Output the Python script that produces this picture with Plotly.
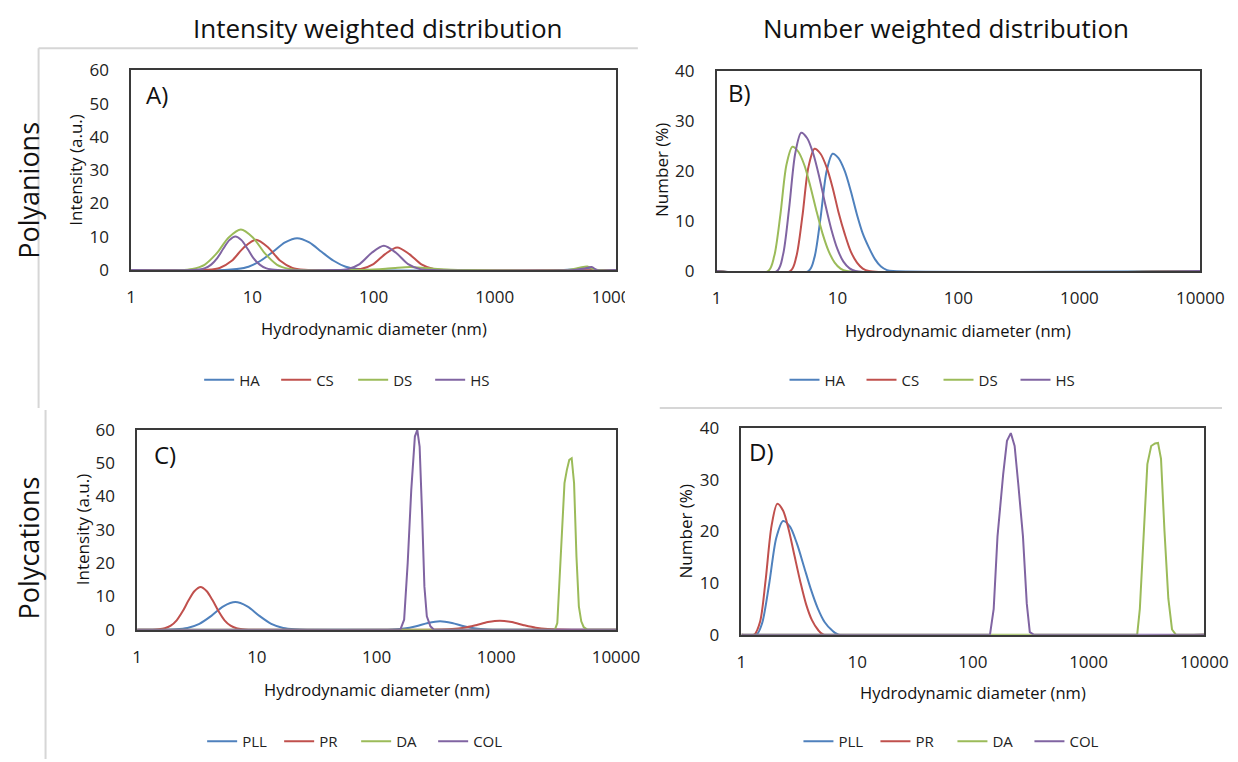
import plotly.graph_objects as go

# ---------------- data (diameter in nm, value) ----------------
# Panel A: intensity weighted, polyanions
A_HA_x = [1, 5.9, 7.4, 9.3, 11.7, 14.8, 18.6, 23.4, 29.5, 37.2, 46.8, 58.9, 74.1, 93.3, 3500, 5000, 6000, 7000, 10000]
A_HA_y = [0, 0, 0.3, 1.0, 2.8, 5.5, 8.3, 9.6, 8.3, 5.5, 2.8, 1.0, 0.3, 0, 0, 0.3, 0.5, 0, 0]
A_CS_x = [1, 3.39, 4.27, 5.37, 6.76, 8.51, 10.7, 13.5, 17.0, 21.4, 26.9, 33.9, 62.4, 78.5, 98.9, 124.5, 156.7, 197.2, 248.3, 312.6, 393.6, 10000]
A_CS_y = [0, 0, 0.08, 0.64, 2.8, 6.8, 9.1, 6.8, 2.8, 0.64, 0.08, 0, 0, 0.3, 1.7, 4.8, 6.8, 4.8, 1.7, 0.3, 0, 0]
A_DS_x = [1, 2.54, 3.2, 4.03, 5.07, 6.38, 8.04, 10.1, 12.7, 16.0, 20.2, 25.4, 63, 79, 100, 126, 158, 200, 251, 316, 398, 501, 631, 4000, 5000, 5800, 6500, 7200, 10000]
A_DS_y = [0, 0, 0.35, 1.6, 5.0, 9.8, 12.2, 9.8, 5.0, 1.6, 0.35, 0, 0, 0.05, 0.15, 0.37, 0.7, 0.9, 0.7, 0.37, 0.15, 0.05, 0, 0, 0.7, 1.1, 0.3, 0, 0]
A_HS_x = [1, 3.24, 3.63, 4.07, 4.57, 5.13, 5.75, 6.46, 7.24, 8.13, 9.12, 10.2, 11.5, 12.9, 14.5, 16.2, 48.4, 61.0, 76.7, 96.6, 121.6, 153.1, 192.8, 242.7, 305.5, 4500, 5500, 6300, 7000, 10000]
A_HS_y = [0, 0, 0.17, 0.6, 1.65, 3.6, 6.4, 9.0, 10.1, 9.0, 6.4, 3.6, 1.65, 0.6, 0.17, 0, 0, 0.3, 1.8, 5.2, 7.3, 5.2, 1.8, 0.3, 0, 0, 0.5, 0.9, 0, 0]

# Panel B: number weighted, polyanions
B_HA_x = [1, 5.75, 6.46, 7.24, 8.13, 9.12, 10.2, 11.5, 12.9, 14.5, 16.2, 18.2, 20.4, 22.9, 25.7, 28.8, 10000]
B_HA_y = [0, 0, 2.8, 10.6, 20.0, 23.5, 22.6, 20.0, 16.0, 11.3, 7.5, 4.7, 2.4, 0.9, 0.2, 0, 0]
B_CS_x = [1, 4.07, 4.57, 5.13, 5.75, 6.46, 7.24, 8.13, 9.12, 10.2, 11.5, 12.9, 14.5, 16.2, 18.2, 10000]
B_CS_y = [0, 0, 2.9, 11.0, 20.8, 24.5, 23.5, 20.8, 16.7, 11.8, 7.4, 3.9, 1.7, 0.5, 0, 0]
B_DS_x = [1, 2.67, 3.0, 3.37, 3.78, 4.24, 4.75, 5.33, 5.98, 6.71, 7.53, 8.45, 9.48, 10.6, 11.9, 10000]
B_DS_y = [0, 0, 3.0, 11.2, 21.2, 24.9, 23.9, 21.2, 16.9, 12.0, 7.5, 4.0, 1.7, 0.5, 0, 0]
B_HS_x = [1, 3.16, 3.55, 3.98, 4.47, 5.01, 5.62, 6.31, 7.08, 7.94, 8.91, 10.0, 11.2, 12.6, 14.1, 10000]
B_HS_y = [0, 0, 3.3, 12.5, 23.5, 27.7, 26.6, 23.5, 18.8, 13.3, 8.3, 4.4, 1.9, 0.55, 0, 0]

# Panel C: intensity weighted, polycations
C_PLL_x = [1, 1.66, 2.09, 2.63, 3.31, 4.17, 5.25, 6.61, 8.32, 10.5, 13.2, 16.6, 20.9, 26.3, 107, 135, 170, 214, 269, 339, 427, 537, 676, 851, 1072, 10000]
C_PLL_y = [0, 0, 0.11, 0.52, 1.75, 4.15, 7.0, 8.3, 7.0, 4.15, 1.75, 0.52, 0.11, 0, 0, 0.07, 0.34, 1.03, 2.0, 2.5, 2.0, 1.03, 0.34, 0.07, 0, 0]
C_PR_x = [1, 1.35, 1.51, 1.70, 1.91, 2.14, 2.40, 2.69, 3.02, 3.39, 3.80, 4.27, 4.79, 5.37, 6.03, 6.76, 7.59, 8.51, 269, 339, 427, 537, 676, 851, 1072, 1349, 1698, 2138, 2692, 3388, 4266, 10000]
C_PR_y = [0, 0, 0.12, 0.43, 1.2, 2.8, 5.5, 8.8, 11.6, 12.8, 11.6, 8.8, 5.5, 2.8, 1.2, 0.43, 0.12, 0, 0, 0.04, 0.17, 0.57, 1.35, 2.27, 2.7, 2.27, 1.35, 0.57, 0.17, 0.04, 0, 0]
C_DA_x = [1, 3090, 3236, 3388, 3548, 3715, 3890, 4074, 4266, 4467, 4677, 4898, 5129, 5370, 5754, 10000]
C_DA_y = [0, 0, 2, 16, 34, 44, 48, 51, 51.5, 44, 22, 7, 2.5, 0.8, 0, 0]
C_COL_x = [1, 158, 170, 182, 195, 209, 219, 229, 240, 251, 263, 282, 302, 10000]
C_COL_y = [0, 0, 3, 20, 42, 58, 60, 55, 35, 13, 4, 1, 0, 0]

# Panel D: number weighted, polycations
D_PLL_x = [1, 1.35, 1.51, 1.74, 2.00, 2.29, 2.63, 3.02, 3.47, 3.98, 4.57, 5.25, 6.03, 6.92, 10000]
D_PLL_y = [0, 0, 2.2, 9.9, 18.7, 22.0, 20.9, 17.6, 13.2, 8.8, 5.1, 2.4, 0.9, 0, 0]
D_PR_x = [1, 1.29, 1.45, 1.62, 1.82, 2.04, 2.29, 2.57, 2.88, 3.24, 3.63, 4.07, 4.57, 5.13, 10000]
D_PR_y = [0, 0, 2.5, 10.6, 21.0, 25.3, 24.0, 20.2, 15.2, 10.1, 5.8, 2.8, 1.0, 0, 0]
D_DA_x = [1, 2630, 2773, 2985, 3221, 3475, 3750, 3981, 4227, 4529, 4887, 5260, 5675, 10000]
D_DA_y = [0, 0, 5, 20, 33, 36.5, 37, 37.1, 34, 20, 7, 1, 0, 0]
D_COL_x = [1, 140.6, 151.4, 163.3, 182.8, 197.2, 212.8, 229.6, 247.2, 271.0, 292.4, 310.5, 335.0, 10000]
D_COL_y = [0, 0, 5, 19, 31, 37.5, 39, 36.5, 29, 19, 6, 0.5, 0, 0]

X_TICKS = [1, 10, 100, 1000, 10000]
X_TICK_TEXT = ["1", "10", "100", "1000", "10000"]
Y_TICKS_INT = [0, 10, 20, 30, 40, 50, 60]
Y_TICKS_NUM = [0, 10, 20, 30, 40]

BLUE, RED, GREEN, PURPLE = "#4F81BD", "#C0504D", "#9BBB59", "#8064A2"
FONT = "Open Sans"
W, H = 1238, 762


# layout calibration: target screen position -> figure pixel
def sx(v):
    return (v - 12.3) / 0.981


def sy(v):
    return (v - 19.6) / 0.971


def px(x):
    return min(max(sx(x) / W, 0), 1)


def py(y):
    return min(max(1 - sy(y) / H, 0), 1)


# (name, x, y, colour, line shape) - narrow spikes are drawn straight between points
panels = [
    dict(ax="", legend="legend", ymax=60, yticks=Y_TICKS_INT,
         box=(131, 618, 70, 270),
         series=[("HA", A_HA_x, A_HA_y, BLUE, "spline"), ("CS", A_CS_x, A_CS_y, RED, "spline"),
                 ("DS", A_DS_x, A_DS_y, GREEN, "spline"), ("HS", A_HS_x, A_HS_y, PURPLE, "spline")]),
    dict(ax="2", legend="legend2", ymax=40, yticks=Y_TICKS_NUM,
         box=(719, 1205, 71, 271),
         series=[("HA", B_HA_x, B_HA_y, BLUE, "spline"), ("CS", B_CS_x, B_CS_y, RED, "spline"),
                 ("DS", B_DS_x, B_DS_y, GREEN, "spline"), ("HS", B_HS_x, B_HS_y, PURPLE, "spline")]),
    dict(ax="3", legend="legend3", ymax=60, yticks=Y_TICKS_INT,
         box=(137, 618, 430, 630),
         series=[("PLL", C_PLL_x, C_PLL_y, BLUE, "spline"), ("PR", C_PR_x, C_PR_y, RED, "spline"),
                 ("DA", C_DA_x, C_DA_y, GREEN, "linear"), ("COL", C_COL_x, C_COL_y, PURPLE, "linear")]),
    dict(ax="4", legend="legend4", ymax=40, yticks=Y_TICKS_NUM,
         box=(744, 1209, 428, 635),
         series=[("PLL", D_PLL_x, D_PLL_y, BLUE, "spline"), ("PR", D_PR_x, D_PR_y, RED, "spline"),
                 ("DA", D_DA_x, D_DA_y, GREEN, "linear"), ("COL", D_COL_x, D_COL_y, PURPLE, "linear")]),
]

fig = go.Figure()
layout_axes = {}
for p in panels:
    a = p["ax"]
    for name, xs, ys, col, shape in p["series"]:
        line = dict(color=col, width=2, shape=shape)
        if shape == "spline":
            line["smoothing"] = 0.8
        fig.add_trace(go.Scatter(
            x=xs, y=ys, mode="lines", name=name, line=line,
            xaxis="x" + a, yaxis="y" + a, legend=p["legend"], hoverinfo="skip"))
    x0, x1, y0, y1 = p["box"]
    layout_axes["xaxis" + a] = dict(
        type="log", range=[0, 4], domain=[px(x0), px(x1)], anchor="y" + a,
        tickvals=X_TICKS, ticktext=X_TICK_TEXT, ticks="outside", ticklen=11,
        tickcolor="rgba(0,0,0,0)", showline=True, linecolor="#3a3a3a", linewidth=1.5,
        mirror=True, showgrid=False, zeroline=False,
        tickfont=dict(family=FONT, size=17, color="#222"))
    layout_axes["yaxis" + a] = dict(
        range=[0, p["ymax"]], domain=[py(y1), py(y0)], anchor="x" + a,
        tickvals=p["yticks"], ticks="outside", ticklen=17, tickcolor="rgba(0,0,0,0)",
        showline=True, linecolor="#3a3a3a", linewidth=1.5, mirror=True,
        showgrid=False, zeroline=False,
        tickfont=dict(family=FONT, size=17, color="#222"))

legend_common = dict(orientation="h", xanchor="center", yanchor="middle",
                     font=dict(family=FONT, size=15, color="#222"),
                     bgcolor="rgba(0,0,0,0)", itemwidth=30, tracegroupgap=0,
                     entrywidth=32, entrywidthmode="pixels")
legends = {
    "legend": dict(x=px(354), y=py(380), **legend_common),
    "legend2": dict(x=px(942), y=py(380), **legend_common),
    "legend3": dict(x=px(357), y=py(742), **legend_common),
    "legend4": dict(x=px(956), y=py(742), **legend_common),
}

ann = []


def add_text(text, x, y, size, angle=0, color="#111"):
    ann.append(dict(text=text, x=px(x), y=py(y), xref="paper", yref="paper",
                    showarrow=False, xanchor="center", yanchor="middle",
                    textangle=angle, font=dict(family=FONT, size=size, color=color)))


add_text("Intensity weighted distribution", 379, 28, 26)
add_text("Number weighted distribution", 950, 28, 26)
add_text("Polyanions", 28, 190, 27, -90)
add_text("Polycations", 28, 548, 27, -90)
add_text("Intensity (a.u.)", 75, 170, 17, -90)
add_text("Number (%)", 663, 170, 17, -90)
add_text("Intensity (a.u.)", 82, 530, 17, -90)
add_text("Number (%)", 688, 532, 17, -90)
add_text("Hydrodynamic diameter (nm)", 375, 328, 16.5)
add_text("Hydrodynamic diameter (nm)", 962, 330, 16.5)
add_text("Hydrodynamic diameter (nm)", 378, 690, 16.5)
add_text("Hydrodynamic diameter (nm)", 977, 693, 16.5)
add_text("A)", 157, 94, 24)
add_text("B)", 742, 92, 24)
add_text("C)", 165, 455, 24)
add_text("D)", 764, 452, 24)

shapes = []
frame_lines = [(38, 48, 38, 408), (38, 48, 640, 48), (45, 410, 45, 762), (662, 408, 1238, 408)]
for xa, ya, xb, yb in frame_lines:
    shapes.append(dict(type="line", xref="paper", yref="paper",
                       x0=px(xa), y0=py(ya), x1=px(xb), y1=py(yb),
                       line=dict(color="#d6d6d6", width=2)))
# the "10000" label of panel A is clipped by the neighbouring panel in the original
shapes.append(dict(type="rect", xref="paper", yref="paper", layer="above",
                   x0=px(627), x1=px(660), y0=py(312), y1=py(283),
                   fillcolor="white", line=dict(width=0)))

fig.update_layout(width=W, height=H, margin=dict(l=0, r=0, t=0, b=0),
                  paper_bgcolor="white", plot_bgcolor="white",
                  annotations=ann, shapes=shapes, showlegend=True,
                  **layout_axes, **legends)
fig.write_html("out.html")
